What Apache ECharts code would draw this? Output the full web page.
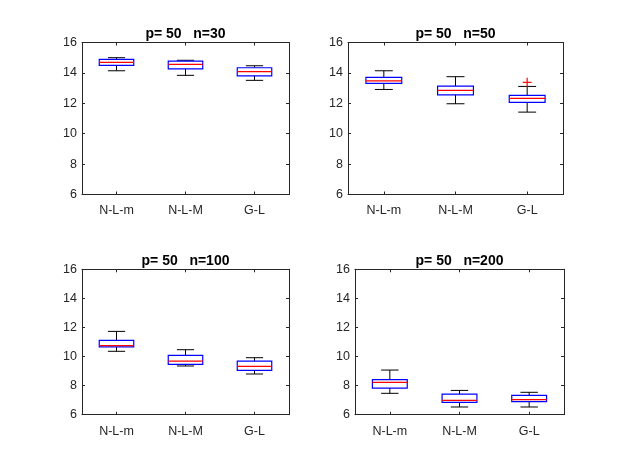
<!DOCTYPE html>
<html>
<head>
<meta charset="utf-8">
<script src="https://cdn.jsdelivr.net/npm/echarts@6/dist/echarts.min.js"></script>
<style>
html,body{margin:0;padding:0;background:#fff;}
#chart{width:623px;height:467px;}
</style>
</head>
<body>
<div id="chart"></div>
<script>
// ---- data ----
const categories = ['N-L-m', 'N-L-M', 'G-L'];
const panelTitles = ['p= 50   n=30', 'p= 50   n=50', 'p= 50   n=100', 'p= 50   n=200'];
const yTicks = [6, 8, 10, 12, 14, 16];
// each box: [lowWhisker, q1, median, q3, highWhisker]
const boxesN30  = [[14.14, 14.49, 14.69, 14.89, 15.00], [13.84, 14.27, 14.56, 14.78, 14.83], [13.51, 13.81, 14.08, 14.34, 14.47]];
const boxesN50  = [[12.91, 13.31, 13.48, 13.70, 14.14], [11.97, 12.56, 12.85, 13.13, 13.75], [11.42, 12.06, 12.32, 12.52, 13.11]];
const boxesN100 = [[10.36, 10.66, 10.75, 11.11, 11.73], [9.35, 9.46, 9.69, 10.08, 10.47], [8.80, 9.05, 9.33, 9.69, 9.92]];
const boxesN200 = [[7.47, 7.83, 8.22, 8.41, 9.07], [6.53, 6.85, 6.99, 7.42, 7.67], [6.53, 6.90, 7.03, 7.33, 7.54]];
// outliers: [categoryIndex, value]
const outliersN30 = [];
const outliersN50 = [[2, 13.38]];
const outliersN100 = [];
const outliersN200 = [];

const panelBoxes = [boxesN30, boxesN50, boxesN100, boxesN200];
const panelOutliers = [outliersN30, outliersN50, outliersN100, outliersN200];

// ---- layout ----
const grids = [
  {left: 82, top: 42.5, width: 207, height: 152},
  {left: 348, top: 42.5, width: 215, height: 152},
  {left: 82, top: 269.3, width: 207, height: 145.4},
  {left: 355, top: 269.3, width: 209, height: 145.4}
];
const FONT = '"Liberation Sans", Arial, Helvetica, sans-serif';
const AX = '#262626';

const xAxes = [], yAxes = [], series = [], graphics = [];
grids.forEach((g, i) => {
  xAxes.push({
    type: 'category', gridIndex: i, data: categories, position: 'bottom',
    boundaryGap: true,
    axisLine: {show: true, lineStyle: {color: AX, width: 1}},
    axisTick: {show: true, inside: true, alignWithLabel: true, length: 3, lineStyle: {color: AX}},
    axisLabel: {color: AX, fontSize: 12.5, fontFamily: FONT, margin: 10},
    splitLine: {show: false}
  });
  xAxes.push({
    type: 'category', gridIndex: i, data: categories, position: 'top',
    boundaryGap: true,
    axisLine: {show: true, lineStyle: {color: AX, width: 1}},
    axisTick: {show: true, inside: true, alignWithLabel: true, length: 3, lineStyle: {color: AX}},
    axisLabel: {show: false},
    splitLine: {show: false}
  });
  yAxes.push({
    type: 'value', gridIndex: i, min: yTicks[0], max: yTicks[yTicks.length - 1], interval: 2, position: 'left',
    axisLine: {show: true, lineStyle: {color: AX, width: 1}},
    axisTick: {show: true, inside: true, length: 3, lineStyle: {color: AX}},
    axisLabel: {color: AX, fontSize: 12.5, fontFamily: FONT, margin: 5},
    splitLine: {show: false}
  });
  yAxes.push({
    type: 'value', gridIndex: i, min: yTicks[0], max: yTicks[yTicks.length - 1], interval: 2, position: 'right',
    axisLine: {show: true, lineStyle: {color: AX, width: 1}},
    axisTick: {show: true, inside: true, length: 3, lineStyle: {color: AX}},
    axisLabel: {show: false},
    splitLine: {show: false}
  });

  const data = panelBoxes[i].map((b, k) => [k].concat(b));
  series.push({
    type: 'custom', xAxisIndex: 2 * i, yAxisIndex: 2 * i,
    data: data,
    encode: {x: 0, y: [1, 2, 3, 4, 5]},
    renderItem: function (params, api) {
      const x = api.value(0);
      const band = api.size([1, 0])[0];
      const hw = band * 0.25, cw = band * 0.125;
      const pLow = api.coord([x, api.value(1)]);
      const pQ1 = api.coord([x, api.value(2)]);
      const pMed = api.coord([x, api.value(3)]);
      const pQ3 = api.coord([x, api.value(4)]);
      const pHigh = api.coord([x, api.value(5)]);
      const cx = pMed[0];
      const black = {stroke: '#000', lineWidth: 1};
      return {
        type: 'group',
        children: [
          {type: 'line', shape: {x1: cx, y1: pQ3[1], x2: cx, y2: pHigh[1]}, style: black},
          {type: 'line', shape: {x1: cx, y1: pQ1[1], x2: cx, y2: pLow[1]}, style: black},
          {type: 'line', shape: {x1: cx - cw, y1: pHigh[1], x2: cx + cw, y2: pHigh[1]}, style: black},
          {type: 'line', shape: {x1: cx - cw, y1: pLow[1], x2: cx + cw, y2: pLow[1]}, style: black},
          {type: 'rect', shape: {x: cx - hw, y: pQ3[1], width: 2 * hw, height: pQ1[1] - pQ3[1]},
            style: {fill: '#fff', stroke: '#0000ff', lineWidth: 1.2}},
          {type: 'line', shape: {x1: cx - hw, y1: pMed[1], x2: cx + hw, y2: pMed[1]},
            style: {stroke: '#ff0000', lineWidth: 1.2}}
        ]
      };
    }
  });
  if (panelOutliers[i].length) {
    series.push({
      type: 'custom', xAxisIndex: 2 * i, yAxisIndex: 2 * i,
      data: panelOutliers[i],
      encode: {x: 0, y: 1},
      renderItem: function (params, api) {
        const p = api.coord([api.value(0), api.value(1)]);
        const r = 4.5;
        const st = {stroke: '#ff0000', lineWidth: 1.2};
        return {
          type: 'group',
          children: [
            {type: 'line', shape: {x1: p[0] - r, y1: p[1], x2: p[0] + r, y2: p[1]}, style: st},
            {type: 'line', shape: {x1: p[0], y1: p[1] - r, x2: p[0], y2: p[1] + r}, style: st}
          ]
        };
      }
    });
  }
  graphics.push({
    type: 'text',
    x: g.left + g.width / 2,
    y: g.top - 1.5,
    style: {
      text: panelTitles[i], align: 'center', verticalAlign: 'bottom',
      fontSize: 14, fontWeight: 'bold', fontFamily: FONT, fill: '#000'
    }
  });
});

const chart = echarts.init(document.getElementById('chart'), null, {renderer: 'canvas'});
chart.setOption({
  animation: false,
  backgroundColor: '#fff',
  grid: grids.map(g => ({left: g.left, top: g.top, width: g.width, height: g.height, containLabel: false})),
  xAxis: xAxes,
  yAxis: yAxes,
  series: series,
  graphic: graphics
});
</script>
</body>
</html>
